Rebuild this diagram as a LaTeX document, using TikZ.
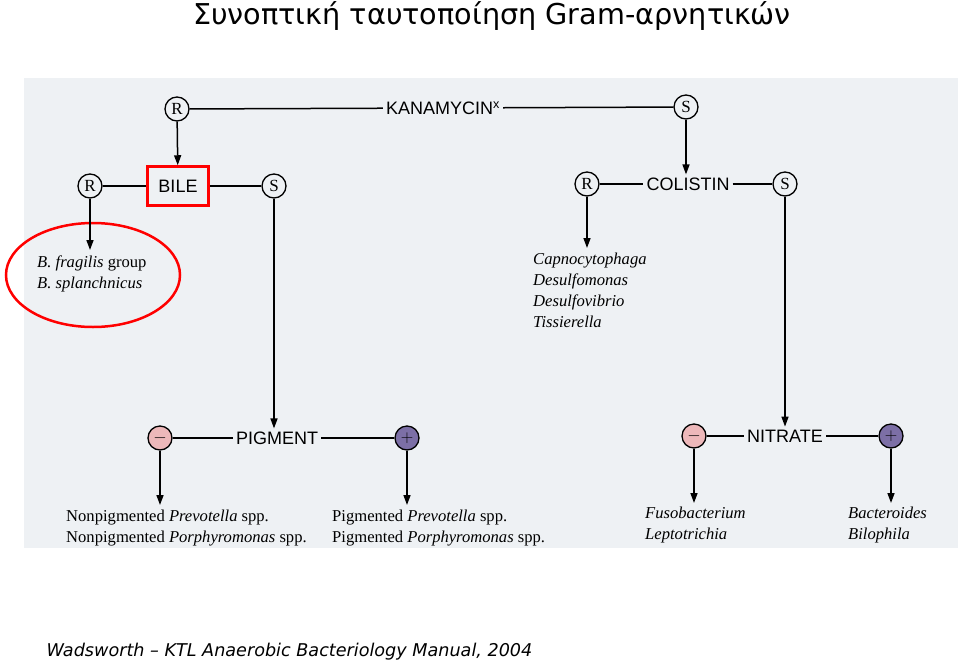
\documentclass[tikz,border=0pt]{standalone}
\usepackage{fontspec}
\setmainfont{Liberation Serif}
\setsansfont{Liberation Sans}
\newfontfamily\titlefont{DejaVu Sans}
\usetikzlibrary{arrows.meta}
\definecolor{scan}{HTML}{EEF1F4}
\definecolor{negc}{HTML}{EDB8BA}
\definecolor{posc}{HTML}{7C6FA6}
\begin{document}
\begin{tikzpicture}[x=1pt,y=-1pt,
  rc/.style={circle,draw,line width=1.3pt,minimum size=24pt,inner sep=0pt,font=\rmfamily\fontsize{17}{17}\selectfont},
  tst/.style={font=\sffamily\fontsize{18}{18}\selectfont,inner sep=3pt},
  org/.style={anchor=north west,align=left,font=\rmfamily\fontsize{16.6}{21}\selectfont,inner sep=0pt},
  ln/.style={line width=1.5pt},
  ar/.style={line width=1.5pt,-{Triangle[length=10pt,width=7pt]}}]
\useasboundingbox (0,0) rectangle (960,664);
\fill[scan] (24,78) rectangle (958,548);
\node[font=\titlefont\fontsize{28.7}{28.7}\selectfont] (title) at (492,16) {Συνοπτική ταυτοποίηση Gram-αρνητικών};
\node[anchor=west,font=\titlefont\itshape\fontsize{17.6}{17.6}\selectfont] (src) at (43,652) {Wadsworth – KTL Anaerobic Bacteriology Manual, 2004};
% top
\node[rc] (r1) at (177,109) {R};
\node[tst] (kan) at (443,108) {KANAMYCIN\textsuperscript{x}};
\node[rc] (s1) at (686,107) {S};
\draw[ln] (r1) -- (kan);
\draw[ln] (kan) -- (s1);
% bile
\node[tst,draw=red,line width=2.5pt,minimum width=61pt,minimum height=39pt] (bile) at (178,186) {BILE};
\node[rc] (r2) at (90,186) {R};
\node[rc] (s2) at (274,186) {S};
\draw[ar] (r1) -- (bile);
\draw[ln] (r2) -- (bile);
\draw[ln] (bile) -- (s2);
\draw[red,line width=2.5pt] (93,275) ellipse (87 and 52);
\node[org] (frag) at (37,256) {\textit{B. fragilis} group\\\textit{B. splanchnicus}};
\draw[ar] (r2) -- (90,250);
% pigment
\node[tst] (pig) at (277,438) {PIGMENT};
\node[rc,fill=negc] (pm) at (160,438) {$-$};
\node[rc,fill=posc] (pp) at (407,438) {$+$};
\draw[ar] (s2) -- (s2 |- pig.north);
\draw[ln] (pm) -- (pig);
\draw[ln] (pig) -- (pp);
\coordinate (pmend) at (160,505);
\coordinate (ppend) at (407,505);
\draw[ar] (pm) -- (pmend);
\draw[ar] (pp) -- (ppend);
\node[org] (np) at (66,510) {Nonpigmented \textit{Prevotella} spp.\\Nonpigmented \textit{Porphyromonas} spp.};
\node[org] (pg) at (332,510) {Pigmented \textit{Prevotella} spp.\\Pigmented \textit{Porphyromonas} spp.};
% colistin
\node[rc] (r3) at (587,184) {R};
\node[tst] (col) at (688,184) {COLISTIN};
\node[rc] (s3) at (785,184) {S};
\draw[ar] (s1) -- (s1 |- col.north);
\draw[ln] (r3) -- (col);
\draw[ln] (col) -- (s3);
\draw[ar] (r3) -- (587,248);
\node[org] (cap) at (533,253) {\textit{Capnocytophaga}\\\textit{Desulfomonas}\\\textit{Desulfovibrio}\\\textit{Tissierella}};
% nitrate
\node[tst] (nit) at (785,436) {NITRATE};
\node[rc,fill=negc] (nm) at (694,436) {$-$};
\node[rc,fill=posc] (np2) at (891,436) {$+$};
\draw[ar] (s3) -- (s3 |- nit.north);
\draw[ln] (nm) -- (nit);
\draw[ln] (nit) -- (np2);
\draw[ar] (nm) -- (694,503);
\draw[ar] (np2) -- (891,503);
\node[org] (fus) at (645,507) {\textit{Fusobacterium}\\\textit{Leptotrichia}};
\node[org] (bac) at (848,507) {\textit{Bacteroides}\\\textit{Bilophila}};
\end{tikzpicture}
\end{document}
